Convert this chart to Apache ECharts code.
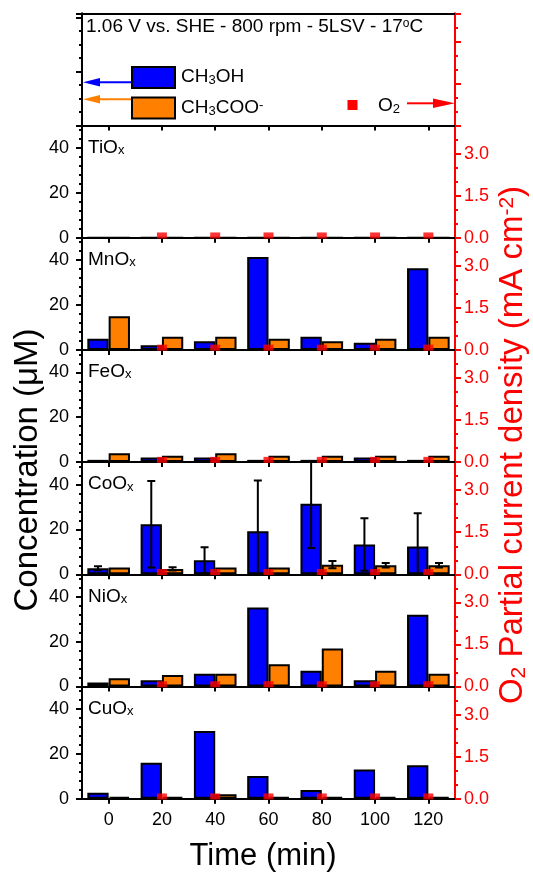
<!DOCTYPE html>
<html><head><meta charset="utf-8">
<script src="https://cdn.jsdelivr.net/npm/echarts@6/dist/echarts.min.js"></script>
<style>html,body{margin:0;padding:0;background:#fff}#c{width:533px;height:873px}</style>
</head><body><div id="c"></div>
<script>
// ---------------- data ----------------
const times = ['0', '20', '40', '60', '80', '100', '120'];
const concTicks = [0, 20, 40];
const o2Ticks = [0.0, 1.5, 3.0];

const tioxCH3OH  = [0, 0, 0, 0, 0, 0, 0];
const tioxCH3COO = [0, 0, 0, 0, 0, 0, 0];
const tioxO2     = [null, 0.08, 0.08, 0.08, 0.08, 0.08, 0.08];

const mnoxCH3OH  = [5.0, 2.1, 3.9, 41.4, 5.9, 3.2, 36.4];
const mnoxCH3COO = [15.0, 5.9, 5.9, 5.0, 3.8, 5.0, 5.9];
const mnoxO2     = [null, 0.08, 0.08, 0.08, 0.08, 0.08, 0.08];

const feoxCH3OH  = [1.0, 2.1, 2.1, 1.0, 1.0, 2.1, 1.0];
const feoxCH3COO = [3.9, 2.8, 3.9, 2.8, 2.8, 2.8, 2.8];
const feoxO2     = [null, 0.08, 0.08, 0.08, 0.08, 0.08, 0.08];

const coxCH3OH     = [2.7, 22.3, 6.3, 19.2, 31.4, 13.3, 12.4];
const coxCH3OHErr  = [0.9, 19.3, 5.8, 22.6, 19.7, 11.7, 14.8];
const coxCH3COO    = [3.0, 2.4, 3.0, 3.0, 4.3, 4.0, 4.0];
const coxCH3COOErr = [0, 0.7, 0, 0, 1.6, 1.0, 1.0];
const coxO2        = [null, 0.08, 0.08, 0.08, 0.08, 0.08, 0.08];

const nioxCH3OH  = [1.8, 2.8, 5.7, 35.2, 7.0, 2.8, 32.0];
const nioxCH3COO = [3.7, 5.1, 5.7, 9.9, 16.9, 7.0, 5.7];
const nioxO2     = [null, 0.08, 0.08, 0.08, 0.08, 0.08, 0.08];

const cuoxCH3OH  = [2.7, 16.0, 30.2, 10.1, 3.9, 13.0, 14.9];
const cuoxCH3COO = [0.8, 0.8, 2.0, 0.8, 0.8, 0.8, 0.8];
const cuoxO2     = [null, 0.08, 0.08, 0.08, 0.08, 0.08, 0.08];

const panels = [
  {name: 'TiO', meoh: tioxCH3OH, ac: tioxCH3COO, o2: tioxO2},
  {name: 'MnO', meoh: mnoxCH3OH, ac: mnoxCH3COO, o2: mnoxO2},
  {name: 'FeO', meoh: feoxCH3OH, ac: feoxCH3COO, o2: feoxO2},
  {name: 'CoO', meoh: coxCH3OH, ac: coxCH3COO, o2: coxO2, meohErr: coxCH3OHErr, acErr: coxCH3COOErr},
  {name: 'NiO', meoh: nioxCH3OH, ac: nioxCH3COO, o2: nioxO2},
  {name: 'CuO', meoh: cuoxCH3OH, ac: cuoxCH3COO, o2: cuoxO2}
];

// ---------------- layout / style ----------------
const FONT = '"Liberation Sans", Arial, Helvetica, sans-serif';
const PANEL_TOP = 13.3, PANEL_H = 112.2, GRID_L = 82, GRID_W = 373;
const BLUE = '#0000FF', ORANGE = '#FF8000', RED = '#FF0000';

const chart = echarts.init(document.getElementById('c'));
const grids = [], xAxes = [], yAxes = [], series = [], graphics = [];

function errRenderer(offset) {
  return function (params, api) {
    const idx = api.value(0), v = api.value(1), e = api.value(2);
    if (!e) return null;
    const bw = api.size([1, 0])[0];
    const x = api.coord([idx, v])[0] + offset * bw;
    const yTop = api.coord([idx, v + e])[1];
    const yBot = api.coord([idx, v - e])[1];
    const cap = 4;
    const st = {stroke: '#000', lineWidth: 2};
    return {type: 'group', children: [
      {type: 'line', shape: {x1: x, y1: yTop, x2: x, y2: yBot}, style: st},
      {type: 'line', shape: {x1: x - cap, y1: yTop, x2: x + cap, y2: yTop}, style: st},
      {type: 'line', shape: {x1: x - cap, y1: yBot, x2: x + cap, y2: yBot}, style: st}
    ]};
  };
}

for (let i = 0; i < 7; i++) {
  const top = PANEL_TOP + i * PANEL_H;
  grids.push({left: GRID_L, top: top, width: GRID_W, height: PANEL_H});
  const last = i === 6, isTop = i === 0;
  xAxes.push({
    type: 'category', gridIndex: i, data: times, boundaryGap: true, position: 'bottom',
    axisLine: {onZero: false, lineStyle: {color: '#000', width: 2}},
    axisTick: {show: true, alignWithLabel: true, length: 5, lineStyle: {color: '#000', width: 2}},
    axisLabel: {show: last, fontSize: 18, fontFamily: FONT, color: '#000', margin: 12},
    splitLine: {show: false}
  });
  const lmin = isTop ? -4 : 0, lmax = isTop ? 4.3 : 50;
  yAxes.push({
    type: 'value', gridIndex: i, position: 'left', min: lmin, max: lmax, interval: isTop ? 4 : 20,
    axisLine: {show: true, lineStyle: {color: '#000', width: 2}},
    axisTick: {show: true, length: 6, lineStyle: {color: '#000', width: 2}},
    axisLabel: {show: !isTop, showMaxLabel: false, fontSize: 18, fontFamily: FONT, color: '#000', margin: 13,
      formatter: v => concTicks.includes(v) ? String(v) : ''},
    splitLine: {show: false}
  });
  yAxes.push({
    type: 'value', gridIndex: i, position: 'left', min: lmin, max: lmax, interval: isTop ? 1 : 4,
    axisLine: {show: false}, axisLabel: {show: false},
    axisTick: {show: true, length: 3, lineStyle: {color: '#000', width: 2}},
    splitLine: {show: false}
  });
  yAxes.push({
    type: 'value', gridIndex: i, position: 'right', min: 0, max: 4, interval: 1.5,
    axisLine: {show: true, lineStyle: {color: RED, width: 2}},
    axisTick: {show: true, length: 6, lineStyle: {color: RED, width: 2}},
    axisLabel: {show: !isTop, showMaxLabel: false, fontSize: 18, fontFamily: FONT, color: RED, margin: 9,
      formatter: v => o2Ticks.includes(v) ? v.toFixed(1) : ''},
    splitLine: {show: false}
  });
  yAxes.push({
    type: 'value', gridIndex: i, position: 'right', min: 0, max: 4, interval: 0.5,
    axisLine: {show: false}, axisLabel: {show: false},
    axisTick: {show: true, length: 3, lineStyle: {color: RED, width: 2}},
    splitLine: {show: false}
  });

  if (i > 0) {
    const p = panels[i - 1];
    series.push({type: 'bar', xAxisIndex: i, yAxisIndex: 4 * i, data: p.meoh, barGap: '0%', barCategoryGap: '20%',
      itemStyle: {color: BLUE, borderColor: '#000', borderWidth: 2}, z: 2});
    series.push({type: 'bar', xAxisIndex: i, yAxisIndex: 4 * i, data: p.ac, barGap: '0%', barCategoryGap: '20%',
      itemStyle: {color: ORANGE, borderColor: '#000', borderWidth: 2}, z: 2});
    if (p.meohErr) {
      series.push({type: 'custom', xAxisIndex: i, yAxisIndex: 4 * i, clip: true, z: 4,
        encode: {x: 0, y: 1}, renderItem: errRenderer(-0.2),
        data: p.meoh.map((v, k) => [k, v, p.meohErr[k]])});
      series.push({type: 'custom', xAxisIndex: i, yAxisIndex: 4 * i, clip: true, z: 4,
        encode: {x: 0, y: 1}, renderItem: errRenderer(0.2),
        data: p.ac.map((v, k) => [k, v, p.acErr[k]])});
    }
    series.push({type: 'scatter', xAxisIndex: i, yAxisIndex: 4 * i + 2, data: p.o2, symbol: 'rect',
      symbolSize: [10, 6], itemStyle: {color: RED}, z: 5});

    graphics.push({type: 'text', x: 88, y: top + 22, z: 100, style: {
      text: p.name + '{s|x}', fontSize: 19, fontFamily: FONT, fill: '#000', align: 'left', verticalAlign: 'middle',
      rich: {s: {fontSize: 13, lineHeight: 13, padding: [12, 0, 0, 0], verticalAlign: 'bottom', fontFamily: FONT, fill: '#000'}}
    }});
  }
}
// top border line of first panel
xAxes.push({type: 'category', gridIndex: 0, data: times, position: 'top',
  axisLine: {onZero: false, lineStyle: {color: '#000', width: 2}},
  axisTick: {show: false}, axisLabel: {show: false}, splitLine: {show: false}});

// ---------------- texts / legend ----------------
const subStyle = (fs, pad, col) => ({fontSize: fs, lineHeight: fs, padding: [pad, 0, 0, 0], verticalAlign: 'bottom', fontFamily: FONT, fill: col});
const supStyle = (fs, pad, col) => ({fontSize: fs, lineHeight: fs, padding: [0, 0, pad, 0], verticalAlign: 'top', fontFamily: FONT, fill: col});

graphics.push(
  {type: 'text', x: 86, y: 27, z: 100, style: {
    text: '1.06 V vs. SHE - 800 rpm - 5LSV - 17{o|o}C', fontSize: 19, fontFamily: FONT, fill: '#000',
    align: 'left', verticalAlign: 'middle', rich: {o: supStyle(12, 10, '#000')}}},
  // legend boxes
  {type: 'rect', z: 100, shape: {x: 132, y: 67, width: 43, height: 21}, style: {fill: BLUE, stroke: '#000', lineWidth: 2}},
  {type: 'rect', z: 100, shape: {x: 132, y: 97.5, width: 43, height: 21}, style: {fill: ORANGE, stroke: '#000', lineWidth: 2}},
  {type: 'text', x: 181, y: 77, z: 100, style: {text: 'CH{s|3}OH', fontSize: 19, fontFamily: FONT, fill: '#000',
    align: 'left', verticalAlign: 'middle', rich: {s: subStyle(13, 12, '#000')}}},
  {type: 'text', x: 181, y: 108, z: 100, style: {text: 'CH{s|3}COO{p|-}', fontSize: 19, fontFamily: FONT, fill: '#000',
    align: 'left', verticalAlign: 'middle', rich: {s: subStyle(13, 12, '#000'), p: supStyle(13, 14, '#000')}}},
  // arrows
  {type: 'line', z: 100, shape: {x1: 131, y1: 82.3, x2: 96, y2: 82.3}, style: {stroke: BLUE, lineWidth: 2}},
  {type: 'polygon', z: 100, shape: {points: [[83, 82.3], [100, 78], [100, 86.6]]}, style: {fill: BLUE}},
  {type: 'line', z: 100, shape: {x1: 131, y1: 99.3, x2: 96, y2: 99.3}, style: {stroke: ORANGE, lineWidth: 2}},
  {type: 'polygon', z: 100, shape: {points: [[83, 99.3], [100, 95], [100, 103.6]]}, style: {fill: ORANGE}},
  {type: 'rect', z: 100, shape: {x: 347.5, y: 100, width: 10, height: 10}, style: {fill: RED}},
  {type: 'text', x: 378, y: 106, z: 100, style: {text: 'O{s|2}', fontSize: 19, fontFamily: FONT, fill: '#000',
    align: 'left', verticalAlign: 'middle', rich: {s: subStyle(13, 12, '#000')}}},
  {type: 'line', z: 100, shape: {x1: 407, y1: 103.3, x2: 436, y2: 103.3}, style: {stroke: RED, lineWidth: 2}},
  {type: 'polygon', z: 100, shape: {points: [[455, 103.3], [433, 98.5], [433, 108.1]]}, style: {fill: RED}},
  // axis titles
  {type: 'text', x: 263, y: 856, z: 100, style: {text: 'Time (min)', fontSize: 31, fontFamily: FONT, fill: '#000',
    align: 'center', verticalAlign: 'middle'}},
  {type: 'text', x: 28, y: 470, rotation: Math.PI / 2, z: 100, style: {text: 'Concentration (μM)', fontSize: 33,
    fontFamily: FONT, fill: '#000', align: 'center', verticalAlign: 'middle'}},
  {type: 'text', x: 513, y: 445, rotation: Math.PI / 2, z: 100, style: {
    text: 'O{s|2} Partial current density (mA cm{p|-2})', fontSize: 33, fontFamily: FONT, fill: RED,
    align: 'center', verticalAlign: 'middle', rich: {s: subStyle(21, 19, RED), p: supStyle(21, 22, RED)}}}
);

chart.setOption({
  animation: false,
  backgroundColor: '#fff',
  grid: grids, xAxis: xAxes, yAxis: yAxes, series: series, graphic: graphics
});
</script>
</body></html>
